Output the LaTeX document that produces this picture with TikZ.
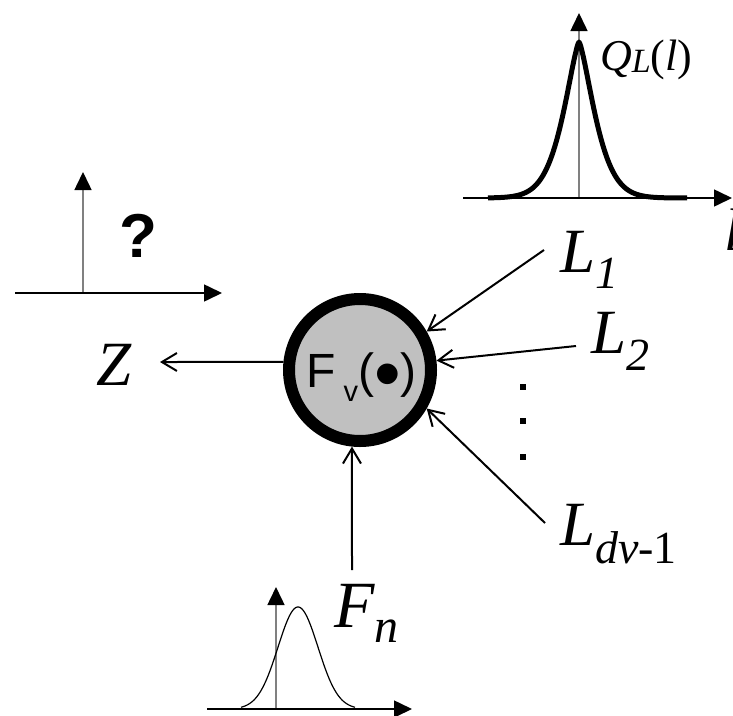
\documentclass[tikz,border=0pt]{standalone}
\usepackage{fontspec}
\setmainfont{Liberation Serif}
\newfontfamily\sansf{Liberation Sans}
\usetikzlibrary{arrows.meta}
\definecolor{silverfill}{RGB}{192,192,192}
\newcommand\fsz[1]{\fontsize{#1}{#1}\selectfont}
\newcommand\mysub[3]{\raisebox{-#1pt}{\fsz{#2}#3}}
\begin{document}
\begin{tikzpicture}[x=1pt,y=-1pt,
  conn/.style={line width=2pt,-{Straight Barb[length=15pt,width=18pt]}},
  haxis/.style={line width=1.6pt,-{Triangle[length=18pt,width=17pt]}},
  vaxis/.style={line width=1.5pt,draw=gray,-{Triangle[length=18pt,width=17pt,color=black]}},
  lab/.style={inner sep=0pt,anchor=base west,font=\fsz{63}\itshape},
  fvcirc/.style={circle,draw=black,fill=silverfill,line width=12pt,minimum size=142pt,inner sep=0pt},
  dotsq/.style={rectangle,fill=black,minimum size=6pt,inner sep=0pt}]
\useasboundingbox (0,0) rectangle (733,715);

% central node
\node[fvcirc] (fv) at (360,370) {};
\node[inner sep=0pt,anchor=base west,font=\sansf\fsz{48}] (fvt) at (306,387)
  {F\hspace{8pt}\raisebox{-14pt}{\fsz{29}v}(\raisebox{-12pt}{\fsz{76}\textbullet})};

% labels
\node[lab] (z) at (96,385) {Z};
\node[lab] (l1) at (560,272) {L\mysub{16}{46}{1}};
\node[lab] (l2) at (591,353) {L\mysub{17}{46}{2}};
\node[lab] (ld) at (560,545) {L\mysub{18}{46}{dv\textup{-1}}};
\node[lab,font=\fsz{66}\itshape] (fn) at (334,627) {F\mysub{15}{48}{n}};
\node[dotsq] (d1) at (523,387) {};
\node[dotsq] (d2) at (523,421) {};
\node[dotsq] (d3) at (523,457) {};

% connector free ends
\coordinate (l1s) at (544,250);
\coordinate (l2s) at (576,346);
\coordinate (lds) at (545,523);
\coordinate (fns) at (352,570);
\coordinate (zend) at (160,362);

\draw[conn] (l1s) -- (fv.30);
\draw[conn] (l2s) -- (fv.7.6);
\draw[conn] (lds) -- (fv.-30.5);
\draw[conn] (fns) -- (fv.-96);
\draw[conn] (fv.174) -- (zend);

% top plot Q_L(l)
\coordinate (tqo) at (579,198);
\coordinate (tqx0) at (463,198);
\coordinate (tqx1) at (732,198);
\coordinate (tqy1) at (579,13);
\draw[vaxis] (tqo) -- (tqy1);
\draw[haxis] (tqx0) -- (tqx1);
\draw[line width=5pt,line join=round]
  plot[domain=-91:108,samples=200] ({579+\x},{198-156*exp(-pow((abs(\x)+0.01)/22.5,1.4))});
\node[inner sep=0pt,anchor=base west,font=\fsz{44}\itshape] (ql) at (600,70)
  {Q\mysub{2}{34}{L}\textup{(}l\textup{)}};
\node[lab,font=\fsz{60}\itshape] (lx) at (724,250) {l};

% left plot ?
\coordinate (ao) at (83,293);
\coordinate (ax0) at (15,293);
\coordinate (ax1) at (222,293);
\coordinate (ay1) at (83,172);
\draw[vaxis] (ao) -- (ay1);
\draw[haxis] (ax0) -- (ax1);
\node[inner sep=0pt,font=\sansf\bfseries\fsz{62}] (qm) at (138,236) {?};

% bottom plot gaussian
\coordinate (bo) at (276,709);
\coordinate (bx0) at (207,709);
\coordinate (bx1) at (412,709);
\coordinate (by1) at (276,587);
\draw[vaxis] (bo) -- (by1);
\draw[haxis] (bx0) -- (bx1);
\draw[line width=1.2pt]
  plot[domain=-57:57,samples=120] ({298+\x},{709-102*exp(-(\x*\x)/800)});
\end{tikzpicture}
\end{document}
